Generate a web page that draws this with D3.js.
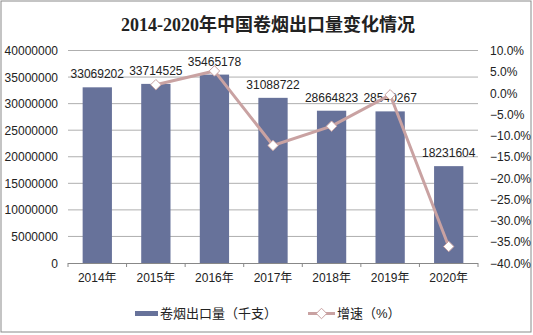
<!DOCTYPE html>
<html><head><meta charset="utf-8">
<script src="https://cdn.jsdelivr.net/npm/d3@7"></script>
<style>body{margin:0;background:#fff}svg{display:block}</style>
</head><body>
<script>
const years = ["2014年","2015年","2016年","2017年","2018年","2019年","2020年"];
const exports = [33069202,33714525,35465178,31088722,28664823,28540267,18231604];
const growth = [null,1.95,5.19,-12.34,-7.80,-0.43,-36.12];
const leftTicks = [0,5000000,10000000,15000000,20000000,25000000,30000000,35000000,40000000];
const rightTicks = [10,5,0,-5,-10,-15,-20,-25,-30,-35,-40];

const W=533,H=335;
const svg=d3.select("body").append("svg").attr("width",W).attr("height",H);
svg.append("rect").attr("x",1).attr("y",1).attr("width",W-3).attr("height",H-4)
  .attr("fill","#fff").attr("stroke","#8a8a8a").attr("stroke-width",1);

const font="Arial, 'Liberation Sans', 'Noto Sans CJK SC', sans-serif";
svg.append("text").attr("x",268).attr("y",31).attr("text-anchor","middle")
  .attr("font-family","'Liberation Serif','Noto Sans CJK SC',serif").attr("font-weight","bold")
  .attr("font-size",18).attr("fill","#222").text("2014-2020年中国卷烟出口量变化情况");

const L=68,R=478,T=50.5,B=263;
const x=d3.scaleBand().domain(years).range([L,R]).paddingInner(0.5).paddingOuter(0.25);
const y=d3.scaleLinear().domain([0,40000000]).range([B,T]);
const y2=d3.scaleLinear().domain([-40,10]).range([B,T]);

// gridlines
svg.append("g").selectAll("line").data(leftTicks.filter(d=>d>0)).join("line")
  .attr("x1",L).attr("x2",R).attr("y1",d=>y(d)).attr("y2",d=>y(d))
  .attr("stroke","#9a9a9a").attr("stroke-width",0.8);

// left labels
svg.append("g").selectAll("text").data(leftTicks).join("text")
  .attr("x",58).attr("y",d=>y(d)+4.5).attr("text-anchor","end")
  .attr("font-family",font).attr("font-size",12).attr("fill","#222")
  .text(d=>d3.format("d")(d));
// right labels
svg.append("g").selectAll("text").data(rightTicks).join("text")
  .attr("x",490).attr("y",d=>y2(d)+4.5).attr("text-anchor","start")
  .attr("font-family",font).attr("font-size",12).attr("fill","#222")
  .text(d=>d3.format(".1f")(d)+"%");

// bars
svg.append("g").selectAll("rect").data(exports).join("rect")
  .attr("x",(d,i)=>x(years[i])).attr("width",x.bandwidth())
  .attr("y",d=>y(d)).attr("height",d=>B-y(d)).attr("fill","#67729a");

// x axis
svg.append("line").attr("x1",L).attr("x2",R).attr("y1",B+0.5).attr("y2",B+0.5).attr("stroke","#888");
const step=x.step();
const bounds=d3.range(years.length+1).map(i=>L+i*(R-L)/years.length);
svg.append("g").selectAll("line").data(bounds).join("line")
  .attr("x1",d=>d).attr("x2",d=>d).attr("y1",B).attr("y2",B+4).attr("stroke","#888");
svg.append("g").selectAll("text").data(years).join("text")
  .attr("x",d=>x(d)+x.bandwidth()/2).attr("y",282).attr("text-anchor","middle")
  .attr("font-family",font).attr("font-size",12).attr("fill","#222").text(d=>d);

// bar labels
svg.append("g").selectAll("text").data(exports).join("text")
  .attr("x",(d,i)=>x(years[i])+x.bandwidth()/2).attr("y",d=>y(d)-9)
  .attr("text-anchor","middle").attr("font-family",font).attr("font-size",12).attr("fill","#222")
  .text(d=>d);

// growth line
const pts=growth.map((g,i)=>({g,i})).filter(d=>d.g!==null);
const line=d3.line().x(d=>x(years[d.i])+x.bandwidth()/2).y(d=>y2(d.g));
svg.append("path").datum(pts).attr("d",line).attr("fill","none")
  .attr("stroke","#c9a2a2").attr("stroke-width",3);
const sym=d3.symbol().type(d3.symbolDiamond2).size(70);
svg.append("g").selectAll("path").data(pts).join("path")
  .attr("d",sym).attr("transform",d=>`translate(${x(years[d.i])+x.bandwidth()/2},${y2(d.g)})`)
  .attr("fill","#fff").attr("stroke","#c9a2a2").attr("stroke-width",1);

// legend
const lg=svg.append("g");
lg.append("rect").attr("x",135).attr("y",311).attr("width",23).attr("height",5).attr("fill","#67729a");
lg.append("text").attr("x",160).attr("y",318).attr("font-family",font).attr("font-size",13).attr("fill","#222").text("卷烟出口量（千支）");
lg.append("line").attr("x1",308).attr("x2",335).attr("y1",313.5).attr("y2",313.5).attr("stroke","#c9a2a2").attr("stroke-width",3);
lg.append("path").attr("d",sym).attr("transform","translate(321.5,313.5)").attr("fill","#fff").attr("stroke","#c9a2a2");
lg.append("text").attr("x",337).attr("y",318).attr("font-family",font).attr("font-size",13).attr("fill","#222").text("增速（%）");
</script>
</body></html>
